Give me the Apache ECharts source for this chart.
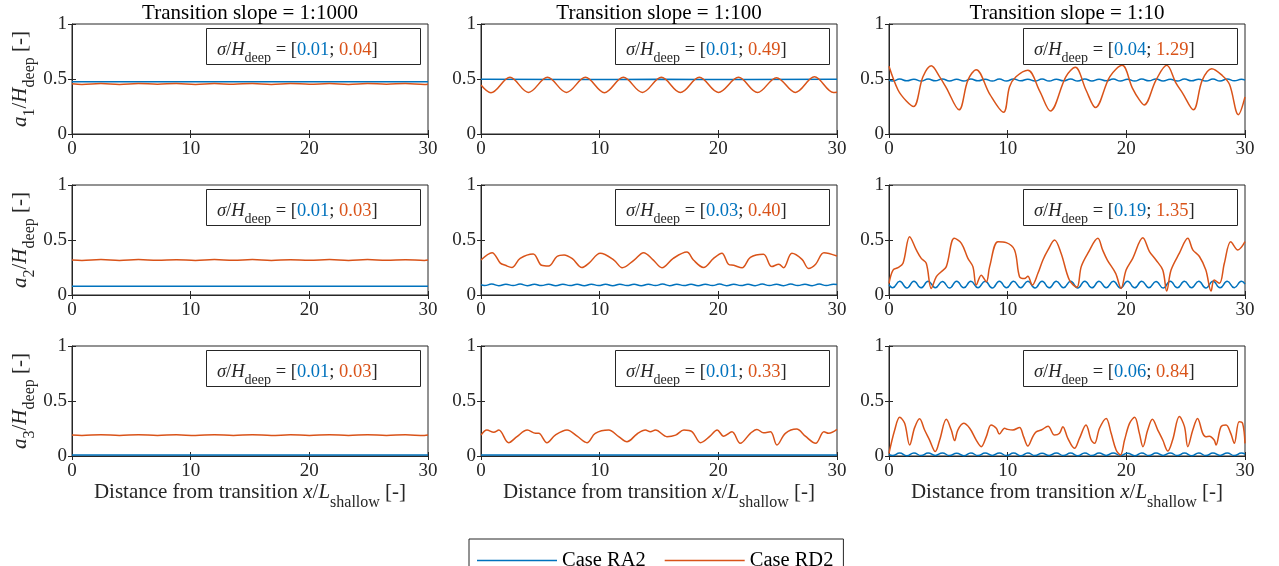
<!DOCTYPE html>
<html>
<head>
<meta charset="utf-8">
<title>Transition slope</title>
<script src="https://cdn.jsdelivr.net/npm/echarts@6/dist/echarts.min.js"></script>
<style>
  html, body { margin: 0; padding: 0; background: #fff; }
  #main { width: 1279px; height: 566px; }
</style>
</head>
<body>
<div id="main"></div>
<script>
// column titles and the sigma/H_deep numbers written in each box (rows a1, a2, a3)
const slopes = ['1:1000', '1:100', '1:10'];
const sigmaRA2 = [
  ['0.01', '0.01', '0.04'],
  ['0.01', '0.03', '0.19'],
  ['0.01', '0.01', '0.06']
];
const sigmaRD2 = [
  ['0.04', '0.49', '1.29'],
  ['0.03', '0.40', '1.35'],
  ['0.03', '0.33', '0.84']
];

// x positions (x/L_shallow) where the fast RA2 wiggle was read
const xWiggle = [0].concat(Array.from({ length: 50 }, (_, i) => +(0.3 + 0.6 * i).toFixed(1)), [30]);

// ---- a1 / H_deep ----
const a1_1000_RA2 = [[0, 0.475], [5, 0.474], [10, 0.475], [15, 0.474], [20, 0.475], [25, 0.474], [30, 0.475]];
const a1_1000_RD2 = [[0, 0.457], [0.84, 0.451], [2.44, 0.460], [4.0, 0.451], [5.6, 0.460], [7.2, 0.452], [8.8, 0.460],
  [10.4, 0.451], [12.0, 0.459], [13.6, 0.452], [15.2, 0.460], [16.8, 0.451], [18.4, 0.460], [20.0, 0.452],
  [21.7, 0.459], [23.3, 0.451], [24.9, 0.460], [26.5, 0.452], [28.1, 0.460], [29.7, 0.451], [30, 0.453]];
const a1_100_RA2 = [[0, 0.497], [7.5, 0.496], [15, 0.497], [22.5, 0.496], [30, 0.497]];
const a1_100_RD2 = [[0, 0.445], [0.84, 0.375], [2.44, 0.515], [4.0, 0.378], [5.6, 0.515], [7.2, 0.378], [8.8, 0.515],
  [10.4, 0.376], [12.0, 0.515], [13.6, 0.378], [15.2, 0.515], [16.8, 0.377], [18.4, 0.515], [20.0, 0.378],
  [21.7, 0.515], [23.3, 0.377], [24.9, 0.512], [26.5, 0.378], [28.1, 0.52], [29.7, 0.378], [30, 0.38]];
const a1_10_RA2 = [0.490,
  0.482, 0.499, 0.483, 0.498, 0.481, 0.499, 0.483, 0.500, 0.482, 0.498,
  0.482, 0.499, 0.483, 0.498, 0.481, 0.499, 0.482, 0.500, 0.483, 0.498,
  0.482, 0.499, 0.481, 0.498, 0.483, 0.499, 0.482, 0.500, 0.482, 0.498,
  0.483, 0.499, 0.482, 0.498, 0.481, 0.499, 0.483, 0.500, 0.482, 0.498,
  0.482, 0.499, 0.483, 0.498, 0.481, 0.499, 0.482, 0.500, 0.483, 0.497,
  0.490];
const a1_10_RD2 = [[0, 0.615], [0.76, 0.40], [1.46, 0.30], [2.08, 0.25], [2.86, 0.52], [3.56, 0.62], [4.27, 0.52],
  [4.83, 0.42], [5.9, 0.22], [6.65, 0.49], [7.35, 0.585], [8.5, 0.36], [9.65, 0.197], [10.16, 0.43], [10.7, 0.52],
  [11.7, 0.58], [12.7, 0.39], [13.6, 0.21], [14.9, 0.52], [15.7, 0.606], [16.6, 0.40], [17.4, 0.24], [18.6, 0.52],
  [19.65, 0.624], [20.5, 0.42], [21.1, 0.31], [21.5, 0.264], [22.5, 0.49], [23.4, 0.624], [24.2, 0.46],
  [24.75, 0.37], [25.65, 0.22], [26.4, 0.49], [27.2, 0.594], [28.1, 0.53], [28.7, 0.45], [29.44, 0.176], [30, 0.336]];

// ---- a2 / H_deep ----
const a2_1000_RA2 = [[0, 0.080], [10, 0.079], [20, 0.080], [30, 0.079]];
const a2_1000_RD2 = [[0, 0.318], [0.84, 0.314], [2.44, 0.322], [4.0, 0.314], [5.6, 0.322], [7.2, 0.315], [8.8, 0.321],
  [10.4, 0.314], [12.0, 0.322], [13.6, 0.315], [15.2, 0.322], [16.8, 0.314], [18.4, 0.321], [20.0, 0.315],
  [21.7, 0.322], [23.3, 0.314], [24.9, 0.322], [26.5, 0.315], [28.1, 0.321], [29.7, 0.314], [30, 0.318]];
const a2_100_RA2 = [0.094,
  0.086, 0.099, 0.085, 0.098, 0.086, 0.099, 0.085, 0.097, 0.086, 0.098,
  0.085, 0.098, 0.086, 0.097, 0.085, 0.098, 0.086, 0.097, 0.085, 0.098,
  0.086, 0.097, 0.085, 0.098, 0.086, 0.099, 0.085, 0.098, 0.086, 0.097,
  0.085, 0.098, 0.086, 0.099, 0.085, 0.098, 0.086, 0.097, 0.085, 0.099,
  0.086, 0.098, 0.085, 0.099, 0.086, 0.098, 0.085, 0.099, 0.086, 0.098,
  0.096];
const a2_100_RD2 = [[0, 0.318], [0.93, 0.385], [1.63, 0.29], [2.05, 0.27], [2.6, 0.25], [3.3, 0.333], [4.4, 0.373],
  [5.1, 0.27], [5.7, 0.263], [6.4, 0.35], [7.0, 0.364], [7.7, 0.33], [8.5, 0.25], [9.1, 0.29], [10.05, 0.379],
  [11.2, 0.318], [11.9, 0.248], [12.9, 0.318], [13.7, 0.385], [14.5, 0.32], [15.25, 0.248], [16.2, 0.333],
  [17.35, 0.39], [17.9, 0.318], [18.75, 0.25], [19.6, 0.333], [20.3, 0.379], [20.85, 0.28], [21.3, 0.27],
  [22.0, 0.248], [22.7, 0.342], [23.8, 0.37], [24.5, 0.258], [25.1, 0.28], [25.5, 0.248], [26.2, 0.379],
  [27.05, 0.324], [27.6, 0.242], [28.2, 0.28], [28.9, 0.385], [30, 0.355]];
const a2_10_RA2 = [0.095,
  0.066, 0.124, 0.064, 0.126, 0.065, 0.125, 0.066, 0.123, 0.064, 0.126,
  0.065, 0.124, 0.066, 0.125, 0.064, 0.126, 0.065, 0.124, 0.066, 0.125,
  0.064, 0.126, 0.065, 0.125, 0.066, 0.124, 0.064, 0.126, 0.065, 0.125,
  0.066, 0.124, 0.064, 0.126, 0.065, 0.125, 0.066, 0.123, 0.064, 0.126,
  0.065, 0.124, 0.066, 0.125, 0.064, 0.126, 0.065, 0.124, 0.066, 0.125,
  0.100];
const a2_10_RD2 = [[0, 0.106], [0.34, 0.227], [0.76, 0.248], [1.18, 0.288], [1.74, 0.53], [2.3, 0.41], [2.72, 0.333],
  [3.14, 0.288], [3.56, 0.06], [3.99, 0.167], [4.4, 0.212], [4.83, 0.258], [5.5, 0.515], [6.1, 0.47], [6.65, 0.333],
  [7.07, 0.258], [7.35, 0.09], [7.77, 0.18], [8.2, 0.12], [8.48, 0.258], [9.18, 0.485], [9.88, 0.476], [10.58, 0.41],
  [11.0, 0.167], [11.42, 0.15], [11.7, 0.17], [12.07, 0.09], [12.55, 0.197], [12.97, 0.318], [13.4, 0.41],
  [13.95, 0.5], [14.5, 0.38], [15.2, 0.136], [15.83, 0.07], [16.2, 0.258], [16.76, 0.38], [17.6, 0.515],
  [18.0, 0.41], [18.4, 0.318], [19.1, 0.197], [19.56, 0.06], [19.98, 0.227], [20.54, 0.333], [21.39, 0.52],
  [21.95, 0.394], [22.5, 0.318], [23.07, 0.227], [23.4, 0.036], [23.77, 0.227], [24.47, 0.38], [25.18, 0.515],
  [25.6, 0.41], [26.16, 0.35], [26.7, 0.227], [27.14, 0.036], [27.4, 0.136], [27.85, 0.106], [28.26, 0.288],
  [28.8, 0.485], [29.4, 0.41], [30, 0.485]];

// ---- a3 / H_deep ----
const a3_1000_RA2 = [[0, 0.009], [15, 0.009], [30, 0.009]];
const a3_1000_RD2 = [[0, 0.190], [0.84, 0.186], [2.44, 0.194], [4.0, 0.186], [5.6, 0.194], [7.2, 0.187], [8.8, 0.193],
  [10.4, 0.186], [12.0, 0.194], [13.6, 0.187], [15.2, 0.194], [16.8, 0.186], [18.4, 0.193], [20.0, 0.187],
  [21.7, 0.194], [23.3, 0.186], [24.9, 0.194], [26.5, 0.187], [28.1, 0.193], [29.7, 0.186], [30, 0.190]];
const a3_100_RA2 = [[0, 0.010], [10, 0.009], [20, 0.010], [30, 0.009]];
const a3_100_RD2 = [[0, 0.19], [0.5, 0.236], [1.07, 0.215], [1.5, 0.236], [2.33, 0.121], [3.03, 0.176], [3.9, 0.236],
  [4.6, 0.206], [4.86, 0.206], [5.56, 0.121], [6.26, 0.19], [7.25, 0.236], [8.1, 0.18], [8.93, 0.121], [9.63, 0.206],
  [10.76, 0.236], [11.6, 0.176], [12.3, 0.13], [13.15, 0.2], [13.85, 0.236], [14.27, 0.22], [14.7, 0.236],
  [15.67, 0.176], [16.4, 0.19], [17.1, 0.236], [17.8, 0.22], [18.5, 0.121], [19.3, 0.18], [19.9, 0.236],
  [20.45, 0.18], [21.15, 0.22], [21.85, 0.115], [22.7, 0.206], [23.25, 0.242], [23.8, 0.212], [24.4, 0.22],
  [24.94, 0.1], [25.65, 0.206], [26.6, 0.245], [27.33, 0.18], [28.2, 0.115], [28.9, 0.22], [29.3, 0.206], [30, 0.242]];
const a3_10_RA2 = [0.015,
  0.004, 0.027, 0.003, 0.028, 0.004, 0.027, 0.005, 0.028, 0.004, 0.026,
  0.003, 0.028, 0.004, 0.027, 0.005, 0.028, 0.004, 0.027, 0.003, 0.028,
  0.004, 0.026, 0.005, 0.028, 0.004, 0.027, 0.003, 0.028, 0.004, 0.027,
  0.005, 0.028, 0.004, 0.026, 0.003, 0.028, 0.004, 0.027, 0.005, 0.028,
  0.004, 0.027, 0.003, 0.028, 0.004, 0.027, 0.005, 0.028, 0.004, 0.027,
  0.016];
const a3_10_RD2 = [[0, 0.024], [0.48, 0.236], [0.9, 0.352], [1.32, 0.297], [1.74, 0.1], [2.16, 0.258], [2.58, 0.339],
  [3.0, 0.236], [3.42, 0.145], [3.9, 0.04], [4.27, 0.145], [4.83, 0.333], [5.25, 0.236], [5.53, 0.14], [5.8, 0.236],
  [6.29, 0.297], [6.8, 0.252], [7.35, 0.145], [7.77, 0.085], [8.2, 0.176], [8.6, 0.282], [9.04, 0.252], [9.3, 0.2],
  [9.74, 0.252], [10.0, 0.242], [10.44, 0.236], [11.0, 0.26], [11.34, 0.176], [11.7, 0.09], [12.12, 0.176],
  [12.4, 0.22], [12.83, 0.236], [13.4, 0.27], [13.95, 0.19], [14.37, 0.206], [14.65, 0.267], [15.07, 0.16],
  [15.63, 0.07], [16.05, 0.16], [16.6, 0.282], [17.04, 0.145], [17.32, 0.115], [17.74, 0.252], [18.3, 0.342],
  [18.72, 0.206], [19.14, 0.055], [19.5, 0.01], [19.85, 0.145], [20.27, 0.297], [20.7, 0.352], [21.1, 0.206],
  [21.4, 0.085], [21.8, 0.236], [22.2, 0.333], [22.65, 0.236], [23.07, 0.145], [23.5, 0.045], [23.9, 0.145],
  [24.47, 0.358], [24.9, 0.267], [25.18, 0.085], [25.6, 0.236], [26.0, 0.342], [26.44, 0.206], [26.7, 0.176],
  [27.0, 0.18], [27.4, 0.145], [27.56, 0.1], [27.98, 0.267], [28.4, 0.282], [28.8, 0.206], [29.1, 0.115],
  [29.5, 0.312], [29.8, 0.297], [30, 0.115]];

const withX = ys => ys.map((y, i) => [xWiggle[i], y]);

// panels[row][col] = [RA2, RD2]
const panels = [
  [[a1_1000_RA2, a1_1000_RD2], [a1_100_RA2, a1_100_RD2], [withX(a1_10_RA2), a1_10_RD2]],
  [[a2_1000_RA2, a2_1000_RD2], [withX(a2_100_RA2), a2_100_RD2], [withX(a2_10_RA2), a2_10_RD2]],
  [[a3_1000_RA2, a3_1000_RD2], [a3_100_RA2, a3_100_RD2], [withX(a3_10_RA2), a3_10_RD2]]
];

const BLUE = '#0072BD';
const ORANGE = '#D95319';
const INK = '#262626';
const FONT = "'Liberation Serif', 'Times New Roman', serif";

// layout of the 3x3 grid
const colLeft = [72, 481, 889];
const rowTop = [24, 185, 346];
const gw = 356;
const gh = 110;

// rich styles for text with subscripts; key is 'color' for axis names, 'fill' for graphic text
function richFor (size, sub, drop, key) {
  const tok = (col, extra) => Object.assign({ fontFamily: FONT, fontSize: size, lineHeight: size + 4, verticalAlign: 'top', [key]: col }, extra);
  return {
    n: tok(INK),
    i: tok(INK, { fontStyle: 'italic' }),
    s: { fontFamily: FONT, fontSize: sub, [key]: INK, lineHeight: sub, verticalAlign: 'top', padding: [drop, 0, 0, 0] },
    b: tok(BLUE),
    o: tok(ORANGE)
  };
}

const grids = [];
const xAxes = [];
const yAxes = [];
const series = [];
const graphics = [];

const tickStyle = { show: true, inside: true, length: 4, lineStyle: { color: INK, width: 1 } };

for (let r = 0; r < 3; r++) {
  for (let c = 0; c < 3; c++) {
    const g = r * 3 + c;
    grids.push({
      left: colLeft[c], top: rowTop[r], width: gw, height: gh,
      show: true, borderColor: INK, borderWidth: 1,
      containLabel: false, outerBoundsMode: 'none'
    });

    // bottom axis with labels, top axis only for the inner ticks
    xAxes.push({
      gridIndex: g, type: 'value', position: 'bottom', min: 0, max: 30, interval: 10,
      axisLine: { show: true, lineStyle: { color: INK, width: 1 } },
      axisTick: tickStyle,
      axisLabel: { fontFamily: FONT, fontSize: 19, color: INK, margin: 6 },
      splitLine: { show: false },
      name: r === 2 ? '{n|Distance from transition }{i|x}{n|/}{i|L}{s|shallow}{n| [-]}' : '',
      nameLocation: 'middle', nameGap: 24,
      nameTextStyle: { rich: richFor(21, 16, 13, 'color') }
    });
    xAxes.push({
      gridIndex: g, type: 'value', position: 'top', min: 0, max: 30, interval: 10,
      axisLine: { show: false }, axisTick: tickStyle, axisLabel: { show: false }, splitLine: { show: false }
    });

    yAxes.push({
      gridIndex: g, type: 'value', position: 'left', min: 0, max: 1, interval: 0.5,
      axisLine: { show: true, lineStyle: { color: INK, width: 1 } },
      axisTick: tickStyle,
      axisLabel: { fontFamily: FONT, fontSize: 19, color: INK, margin: 5 },
      splitLine: { show: false },
      name: c === 0 ? '{i|a}{s|' + (r + 1) + '}{n|/}{i|H}{s|deep}{n| [-]}' : '',
      nameLocation: 'middle', nameRotate: 90, nameGap: 37,
      nameTextStyle: { rich: richFor(21, 16, 12, 'color') }
    });
    yAxes.push({
      gridIndex: g, type: 'value', position: 'right', min: 0, max: 1, interval: 0.5,
      axisLine: { show: false }, axisTick: tickStyle, axisLabel: { show: false }, splitLine: { show: false }
    });

    const [ra2, rd2] = panels[r][c];
    series.push({
      name: 'Case RA2', type: 'line', xAxisIndex: 2 * g, yAxisIndex: 2 * g,
      data: ra2, symbol: 'none', showSymbol: false, smooth: 0.5, z: 2,
      lineStyle: { color: BLUE, width: 1.5 }, itemStyle: { color: BLUE }
    });
    series.push({
      name: 'Case RD2', type: 'line', xAxisIndex: 2 * g, yAxisIndex: 2 * g,
      data: rd2, symbol: 'none', showSymbol: false, smooth: 0.35, z: 3,
      lineStyle: { color: ORANGE, width: 1.5 }, itemStyle: { color: ORANGE }
    });

    // sigma / H_deep box in the upper right of each panel
    const bx = colLeft[c] + 134;
    const by = rowTop[r] + 4;
    graphics.push({
      type: 'rect', z: 100,
      shape: { x: bx + 0.5, y: by + 0.5, width: 214, height: 36 },
      style: { fill: '#fff', stroke: INK, lineWidth: 1 }
    });
    graphics.push({
      type: 'text', z: 101, x: bx + 11, y: by + 24,
      style: {
        text: '{i|σ}{n|/}{i|H}{s|deep}{n| = [}{b|' + sigmaRA2[r][c] + '}{n|; }{o|' + sigmaRD2[r][c] + '}{n|]}',
        rich: richFor(18.5, 14, 11, 'fill'),
        align: 'left', verticalAlign: 'middle'
      }
    });
  }
}

// column titles
for (let c = 0; c < 3; c++) {
  graphics.push({
    type: 'text', z: 100, x: colLeft[c] + gw / 2, y: 13,
    style: {
      text: 'Transition slope = ' + slopes[c],
      fontFamily: FONT, fontSize: 21, fill: '#000',
      align: 'center', verticalAlign: 'middle'
    }
  });
}

const myChart = echarts.init(document.getElementById('main'));
const option = {
  animation: false,
  backgroundColor: '#fff',
  grid: grids,
  xAxis: xAxes,
  yAxis: yAxes,
  legend: {
    data: ['Case RA2', 'Case RD2'],
    left: 469, top: 539,
    icon: 'rect',
    itemWidth: 80, itemHeight: 1.5, itemGap: 19,
    padding: [11, 10, 30, 8],
    borderColor: INK, borderWidth: 1,
    textStyle: { fontFamily: FONT, fontSize: 20.5, color: '#000' }
  },
  graphic: { elements: graphics },
  series: series
};
myChart.setOption(option);
</script>
</body>
</html>
